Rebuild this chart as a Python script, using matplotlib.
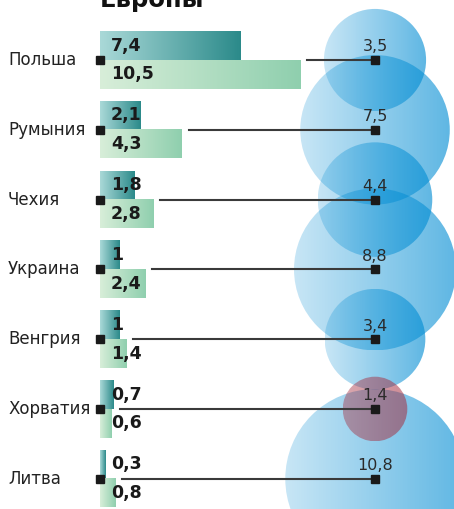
import numpy as np
import matplotlib.pyplot as plt
from matplotlib.colors import LinearSegmentedColormap
from matplotlib.patches import Ellipse

# данные
countries = ['Польша', 'Румыния', 'Чехия', 'Украина', 'Венгрия', 'Хорватия', 'Литва']
top_vals = [7.4, 2.1, 1.8, 1, 1, 0.7, 0.3]
bottom_vals = [10.5, 4.3, 2.8, 2.4, 1.4, 0.6, 0.8]
bubble_vals = [3.5, 7.5, 4.4, 8.8, 3.4, 1.4, 10.8]
highlight = 'Хорватия'

W, H = 454, 509
px_x = 19.05      # пикселей на единицу по x
px_y = 69.8       # пикселей между строками
x0_px, y0_px = 100, 60
bubble_x = 275 / px_x
bubble_k = 27.3   # радиус в px = k * sqrt(v)
bar_h = 0.41

fig = plt.figure(figsize=(W / 100, H / 100), dpi=100)
ax = fig.add_axes([0, 0, 1, 1])
ax.set_axis_off()

def fmt(v):
    return ('%g' % v).replace('.', ',')

cm_top = LinearSegmentedColormap.from_list('top', ['#aad9d8', '#2b8a8a'])
cm_bot = LinearSegmentedColormap.from_list('bot', ['#d8eed9', '#8fcfae'])
grad = np.linspace(0, 1, 256).reshape(1, -1)

y = np.arange(len(countries))

# бары с градиентом
for vals, offs, cmap in [(top_vals, -bar_h, cm_top), (bottom_vals, 0, cm_bot)]:
    bars = ax.barh(y + offs, vals, height=bar_h, align='edge',
                   facecolor='none', edgecolor='none')
    for b in bars:
        bx, by, bw, bh = b.get_x(), b.get_y(), b.get_width(), b.get_height()
        ax.imshow(grad, cmap=cmap, extent=(bx, bx + bw, by + bh, by),
                  aspect='auto', zorder=2)

# пузыри
def bubble_img(rgb, a0, a1):
    img = np.zeros((1, 256, 4))
    img[..., :3] = rgb
    img[..., 3] = np.linspace(a0, a1, 256)
    return img

blue = bubble_img((0.0, 0.55, 0.83), 0.22, 0.63)
red = bubble_img((0.65, 0.18, 0.25), 0.42, 0.55)

for i, (c, v) in enumerate(zip(countries, bubble_vals)):
    r = bubble_k * np.sqrt(v)
    w, h = 2 * r / px_x, 2 * r / px_y
    e = Ellipse((bubble_x, i), w, h, facecolor='none', edgecolor='none')
    ax.add_patch(e)
    hl = c == highlight
    im = ax.imshow(red if hl else blue,
                   extent=(bubble_x - w / 2, bubble_x + w / 2, i + h / 2, i - h / 2),
                   aspect='auto', zorder=1.5 if hl else 1, interpolation='bilinear')
    im.set_clip_path(e)

# линии и маркеры
for i in range(len(countries)):
    start = max(top_vals[i], bottom_vals[i]) + 0.35
    ax.plot([start, bubble_x], [i, i], color='#3a3a3a', lw=1.5, zorder=3)
    ax.plot([0, bubble_x], [i, i], ls='none', marker='s', ms=6,
            color='#1a1a1a', zorder=4)

# подписи
for i, c in enumerate(countries):
    ax.text(-92 / px_x, i, c, ha='left', va='center', fontsize=12,
            color='#222222', zorder=5)
    ax.text(11 / px_x, i - bar_h / 2, fmt(top_vals[i]), ha='left', va='center',
            fontsize=12.5, fontweight='bold', color='#1a1a1a', zorder=5)
    ax.text(11 / px_x, i + bar_h / 2, fmt(bottom_vals[i]), ha='left', va='center',
            fontsize=12.5, fontweight='bold', color='#1a1a1a', zorder=5)
    ax.annotate(fmt(bubble_vals[i]), (bubble_x, i), xytext=(0, 4),
                textcoords='offset points', ha='center', va='bottom',
                fontsize=11.5, color='#2a2a2a', zorder=5)

fig.text(100 / W, 1 - 7 / H, 'Европы', ha='left', va='baseline',
         fontsize=17.5, fontweight='bold', color='#111111')

ax.set_xlim(-x0_px / px_x, (W - x0_px) / px_x)
ax.set_ylim((H - y0_px) / px_y, -y0_px / px_y)

fig.savefig('out.png', dpi=100)
